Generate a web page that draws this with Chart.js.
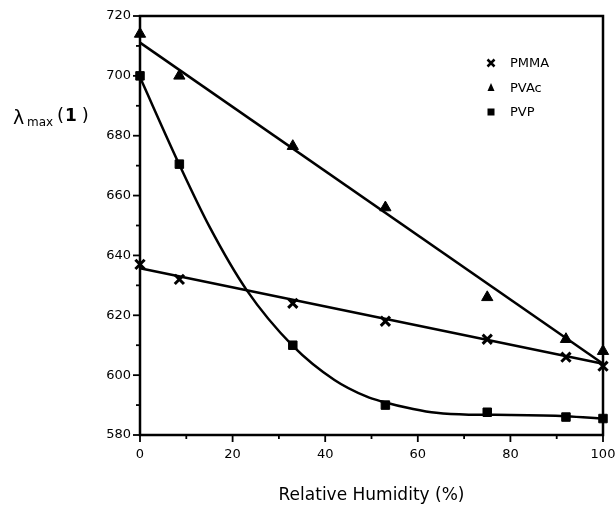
<!DOCTYPE html>
<html>
<head>
<meta charset="utf-8">
<script src="https://cdn.jsdelivr.net/npm/chart.js@4/dist/chart.umd.min.js"></script>
<style>
  body { margin: 0; background: #fff; }
  #wrap { width: 616px; height: 506px; }
</style>
</head>
<body>
<div id="wrap"><canvas id="chart" width="616" height="506"></canvas></div>
<script>
// relative humidity (%) of each measurement
const humidity = [0, 8.5, 33, 53, 75, 92, 100];
// lambda max readings
const pmma = [637, 632, 624, 618, 612, 606, 603];
const pvac = [714, 700, 676.5, 656, 626, 612, 608];
const pvp = [700, 670.5, 610, 590, 587.6, 586, 585.5];

// straight fit lines (end points)
const fitX = [0, 100];
const pmmaFit = [635.7, 603.8];
const pvacFit = [711.1, 603.8];

// smooth PVP fit curve
const pvpCurveX = [0, 8.5, 15, 23, 33, 42, 49, 52, 59, 64, 71, 80, 92, 100];
const pvpCurve = [699.5, 670.3, 649.6, 628.5, 609.8, 598.4, 592.8, 591.3, 588.7, 587.4, 586.8, 586.7, 586.3, 585.4];

const yTicks = [580, 600, 620, 640, 660, 680, 700, 720];
const xTicks = [0, 20, 40, 60, 80, 100];

const legendItems = [
    { label: "PMMA", style: "cross" },
    { label: "PVAc", style: "triangle" },
    { label: "PVP", style: "square" }
];

const FONT = "'DejaVu Sans', sans-serif";

function pairs(xs, ys) {
    return xs.map((x, i) => ({ x: x, y: ys[i] }));
}

function markerSet(label, values, style, radius, width) {
    return {
        label: label,
        data: pairs(humidity, values),
        showLine: false,
        pointStyle: style,
        pointRadius: radius,
        pointBorderWidth: width,
        pointBackgroundColor: "#000",
        pointBorderColor: "#000",
        clip: false
    };
}

function lineSet(label, xs, ys, curved) {
    return {
        label: label,
        data: pairs(xs, ys),
        showLine: true,
        borderColor: "#000",
        borderWidth: 2.5,
        pointRadius: 0,
        cubicInterpolationMode: curved ? "monotone" : "default",
        clip: false
    };
}

function drawMarker(ctx, style, x, y, r) {
    ctx.save();
    ctx.fillStyle = "#000";
    ctx.strokeStyle = "#000";
    if (style === "cross") {
        ctx.lineWidth = 2.5;
        ctx.beginPath();
        ctx.moveTo(x - r, y - r); ctx.lineTo(x + r, y + r);
        ctx.moveTo(x + r, y - r); ctx.lineTo(x - r, y + r);
        ctx.stroke();
    } else if (style === "triangle") {
        ctx.beginPath();
        ctx.moveTo(x, y - r - 1);
        ctx.lineTo(x + r, y + r);
        ctx.lineTo(x - r, y + r);
        ctx.closePath();
        ctx.fill();
    } else {
        ctx.fillRect(x - r, y - r, 2 * r, 2 * r);
    }
    ctx.restore();
}

// frame, tick marks, legend and y label
const decorations = {
    id: "decorations",
    afterDraw(chart) {
        const ctx = chart.ctx;
        const area = chart.chartArea;
        const xs = chart.scales.x;
        const ys = chart.scales.y;

        ctx.save();
        ctx.strokeStyle = "#000";
        ctx.lineWidth = 2.5;
        ctx.strokeRect(area.left, area.top, area.right - area.left, area.bottom - area.top);

        ctx.lineWidth = 1.8;
        ys.ticks.forEach(t => {
            const py = ys.getPixelForValue(t.value);
            const len = t.value % 20 === 0 ? 7 : 4;
            ctx.beginPath();
            ctx.moveTo(area.left - len, py);
            ctx.lineTo(area.left, py);
            ctx.stroke();
        });
        xs.ticks.forEach(t => {
            const px = xs.getPixelForValue(t.value);
            const len = t.value % 20 === 0 ? 7 : 4;
            ctx.beginPath();
            ctx.moveTo(px, area.bottom);
            ctx.lineTo(px, area.bottom + len);
            ctx.stroke();
        });

        // legend
        ctx.font = "13px " + FONT;
        ctx.fillStyle = "#000";
        ctx.textBaseline = "middle";
        legendItems.forEach((item, i) => {
            const y = 63 + i * 24.5;
            drawMarker(ctx, item.style, 491, y, 3.5);
            ctx.fillText(item.label, 510, y + 1);
        });

        // y axis label: lambda max (1)
        ctx.textBaseline = "alphabetic";
        ctx.font = "19px " + FONT;
        ctx.fillText("\u03bb", 13, 124);
        ctx.font = "12px " + FONT;
        ctx.fillText("max", 27, 126);
        ctx.font = "18px " + FONT;
        ctx.fillText("(", 57, 121);
        ctx.font = "bold 17px " + FONT;
        ctx.fillText("1", 65, 121);
        ctx.font = "18px " + FONT;
        ctx.fillText(" )", 76, 121);
        ctx.restore();
    }
};

new Chart(document.getElementById("chart"), {
    type: "scatter",
    data: {
        datasets: [
            lineSet("PMMA fit", fitX, pmmaFit, false),
            lineSet("PVAc fit", fitX, pvacFit, false),
            lineSet("PVP fit", pvpCurveX, pvpCurve, true),
            markerSet("PMMA", pmma, "crossRot", 6.5, 3),
            markerSet("PVAc", pvac, "triangle", 6.5, 1),
            markerSet("PVP", pvp, "rect", 6, 1)
        ]
    },
    options: {
        responsive: false,
        animation: false,
        layout: { padding: { top: 16, right: 0, left: 0, bottom: 0 } },
        plugins: {
            legend: { display: false },
            tooltip: { enabled: false }
        },
        scales: {
            x: {
                type: "linear",
                min: 0,
                max: 100,
                grid: { display: false, drawTicks: false },
                border: { display: false },
                ticks: {
                    stepSize: 10,
                    padding: 12,
                    color: "#000",
                    font: { family: FONT, size: 13 },
                    maxRotation: 0,
                    callback: v => xTicks.includes(v) ? v : ""
                },
                title: {
                    display: true,
                    text: "Relative Humidity (%)",
                    color: "#000",
                    font: { family: FONT, size: 17 },
                    padding: 0
                },
                afterFit: scale => {
                    scale.height = 71;
                    scale.paddingLeft = 0;
                    scale.paddingRight = 13;
                }
            },
            y: {
                type: "linear",
                min: 580,
                max: 720,
                grid: { display: false, drawTicks: false },
                border: { display: false },
                ticks: {
                    stepSize: 10,
                    padding: 9,
                    color: "#000",
                    font: { family: FONT, size: 13 },
                    callback: v => yTicks.includes(v) ? v : ""
                },
                afterFit: scale => {
                    scale.width = 140;
                    scale.paddingTop = 0;
                    scale.paddingBottom = 0;
                }
            }
        }
    },
    plugins: [decorations]
});
</script>
</body>
</html>
